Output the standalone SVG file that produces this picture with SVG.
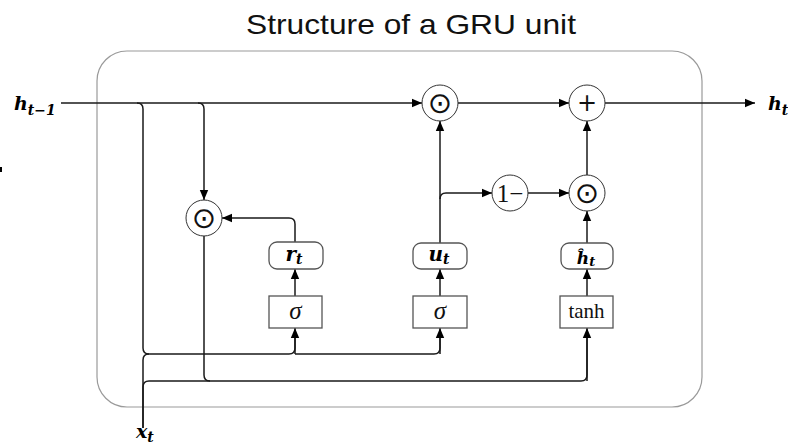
<svg xmlns="http://www.w3.org/2000/svg" width="788" height="448" viewBox="0 0 788 448">
<style>
.wire{fill:none;stroke:#1a1a1a;stroke-width:1.5}
.arr{marker-end:url(#ah)}
.op{fill:#fff;stroke:#333;stroke-width:1}
.box{fill:#fff;stroke:#555;stroke-width:1.3}
.math{font-family:"DejaVu Serif","Liberation Serif",serif;font-weight:bold;font-style:italic;fill:#000}
.sym{font-family:"DejaVu Sans",sans-serif;fill:#111}
.ser{font-family:"Liberation Serif","DejaVu Serif",serif;fill:#111}
</style>
<defs>
<marker id="ah" markerUnits="userSpaceOnUse" markerWidth="12" markerHeight="10" refX="10" refY="5" orient="auto">
<path d="M0,0.8 L10,5 L0,9.2 Z" fill="#000"/>
</marker>
</defs>
<rect width="788" height="448" fill="#fff"/>
<text x="411" y="34" text-anchor="middle" font-family="Liberation Sans, Arial, sans-serif" font-size="28" textLength="330" lengthAdjust="spacingAndGlyphs" fill="#111">Structure of a GRU unit</text>
<rect x="97" y="51" width="605" height="356" rx="30" ry="30" fill="none" stroke="#9a9a9a" stroke-width="1.2"/>
<rect x="0" y="167" width="2" height="5" fill="#000"/>

<g id="connectors">
<path class="wire arr" d="M61,103 H422"/>
<path class="wire arr" d="M198,103 Q204,103 204,109 V200"/>
<path class="wire" d="M137,103 Q143,103 143,109 V348 Q143,354 149,354"/>
<path class="wire" d="M143,428 V387 Q143,381 149,381 H581 Q587,381 587,375 V330"/>
<path class="wire" d="M143,428 V360 Q143,354 149,354 H289 Q295,354 295,348 V330"/>
<path class="wire arr" d="M295,354 V328"/>
<path class="wire" d="M295,354 H434 Q440,354 440,348 V330"/>
<path class="wire arr" d="M440,354 V328"/>
<path class="wire arr" d="M587,381 V328"/>
<path class="wire" d="M204,236 V375 Q204,381 210,381"/>
<path class="wire arr" d="M295,296 V269"/>
<path class="wire arr" d="M440,296 V269"/>
<path class="wire arr" d="M587,296 V269"/>
<path class="wire arr" d="M295,242 V224 Q295,218 289,218 H222"/>
<path class="wire arr" d="M440,243 V121"/>
<path class="wire arr" d="M440,199 Q440,193 446,193 H492"/>
<path class="wire arr" d="M528,193 H569"/>
<path class="wire arr" d="M587,243 V211"/>
<path class="wire arr" d="M587,175 V121"/>
<path class="wire arr" d="M458,103 H569"/>
<path class="wire arr" d="M605,103 H755"/>
</g>

<g id="h_prev"><text class="math" x="14" y="110" font-size="19">h<tspan font-size="14" dy="5">t−1</tspan></text></g>
<g id="h_t"><text class="math" x="768" y="110" font-size="19">h<tspan font-size="14" dy="5">t</tspan></text></g>
<g id="x_t"><text class="math" x="136" y="438" font-size="19">x<tspan font-size="14" dy="4">t</tspan></text></g>

<g id="reset_mul"><circle class="op" cx="204" cy="218" r="18"/><text class="sym" x="204" y="228" font-size="29" text-anchor="middle">⊙</text></g>
<g id="top_mul"><circle class="op" cx="440" cy="103" r="18"/><text class="sym" x="440" y="113" font-size="29" text-anchor="middle">⊙</text></g>
<g id="plus"><circle class="op" cx="587" cy="103" r="18"/><text class="sym" x="587" y="111" font-size="24" text-anchor="middle">+</text></g>
<g id="one_minus"><circle class="op" cx="510" cy="193" r="18"/><text class="ser" x="510" y="201.5" font-size="25" text-anchor="middle">1−</text></g>
<g id="low_mul"><circle class="op" cx="587" cy="193" r="18"/><text class="sym" x="587" y="203" font-size="29" text-anchor="middle">⊙</text></g>

<g id="r_t"><rect class="box" x="269" y="242" width="54" height="27" rx="8"/><text class="math" x="294" y="261" font-size="20" text-anchor="middle">r<tspan font-size="14" dy="3">t</tspan></text></g>
<g id="u_t"><rect class="box" x="413" y="243" width="54" height="26" rx="8"/><text class="math" x="439" y="261" font-size="20" text-anchor="middle">u<tspan font-size="14" dy="3">t</tspan></text></g>
<g id="h_hat"><rect class="box" x="561" y="243" width="52" height="26" rx="8"/><text class="math" x="586" y="263.5" font-size="17" text-anchor="middle">ĥ<tspan font-size="13" dy="2">t</tspan></text></g>

<g id="sigma_r"><rect class="box" x="269" y="296" width="53" height="32"/><text class="ser" x="295.5" y="319" font-size="25" font-style="italic" text-anchor="middle">σ</text></g>
<g id="sigma_u"><rect class="box" x="413" y="296" width="54" height="32"/><text class="ser" x="440" y="319" font-size="25" font-style="italic" text-anchor="middle">σ</text></g>
<g id="tanh"><rect class="box" x="560" y="296" width="53" height="32"/><text class="ser" x="586.5" y="318" font-size="21" text-anchor="middle">tanh</text></g>
</svg>
